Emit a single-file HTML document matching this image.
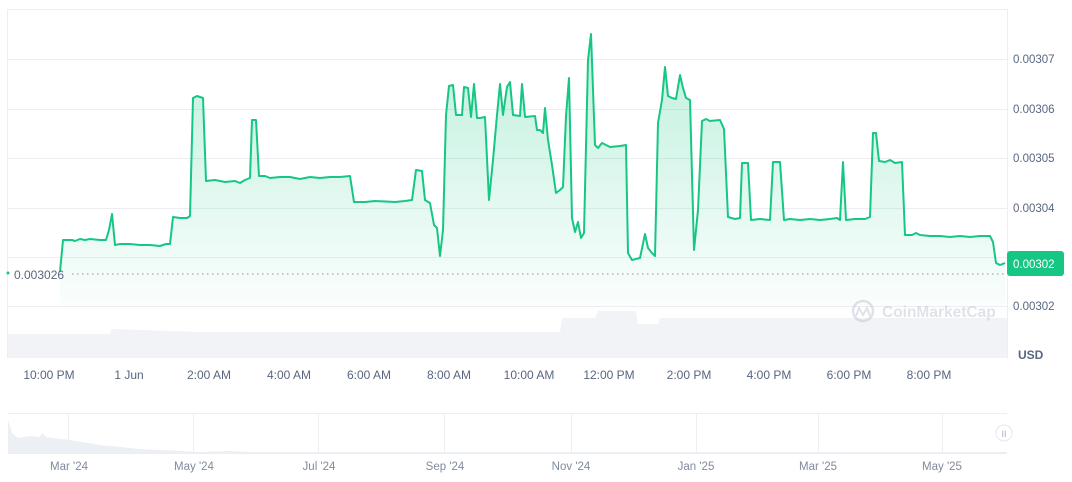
<!DOCTYPE html>
<html><head><meta charset="utf-8"><style>
body{margin:0;background:#fff;width:1072px;height:477px;overflow:hidden;font-family:"Liberation Sans",sans-serif}
</style></head><body>
<svg width="1072" height="477" viewBox="0 0 1072 477" xmlns="http://www.w3.org/2000/svg">
<defs>
<linearGradient id="g" x1="0" y1="0" x2="0" y2="1">
<stop offset="0" stop-color="#16c784" stop-opacity="0.28"/>
<stop offset="1" stop-color="#16c784" stop-opacity="0.02"/>
</linearGradient>
</defs>
<g stroke="#eceef2" stroke-width="1">
<line x1="7" y1="9.5" x2="1007" y2="9.5"/>
<line x1="7" y1="59.5" x2="1007" y2="59.5"/>
<line x1="7" y1="109.5" x2="1007" y2="109.5"/>
<line x1="7" y1="158.5" x2="1007" y2="158.5"/>
<line x1="7" y1="208.5" x2="1007" y2="208.5"/>
<line x1="7" y1="257.5" x2="1007" y2="257.5"/>
<line x1="7" y1="306.5" x2="1007" y2="306.5"/>
<line x1="7.5" y1="9" x2="7.5" y2="358"/>
<line x1="1007.5" y1="9" x2="1007.5" y2="358"/>
</g>
<path d="M8,358 L8,334 L110,334 L112,329 L200,332 L560,332 L562,318 L595,318 L598,311 L636,311 L638,324 L658,324 L660,318 L1007,318 L1007,358 Z" fill="#f2f3f6"/>
<polyline fill="url(#g)" stroke="none" points="60,272 63,240 72,240 75,241 80,239 85,240 90,239 100,240 106,240 109,230 112,214 115,245 120,244 130,244 140,245 150,245 160,246 166,244 170,244 173,217 180,218 187,218 190,216 193,98 197,96 203,98 206,181 215,180 225,182 235,181 240,183 245,180 250,178 252,120 256,120 259,176 265,176 270,178 280,177 290,177 300,179 310,177 320,178 330,177 340,177 350,176 354,202 365,202 375,201 395,202 405,201 412,200 416,170 422,171 425,200 430,203 434,225 437,228 440,256 443,230 446,115 449,86 453,85 456,115 462,115 464,87 468,88 471,117 474,84 477,118 480,118 485,117 489,200 493,160 497,115 500,84 503,115 507,87 510,82 513,115 520,116 522,84 525,117 535,116 537,130 540,130 543,133 545,108 548,140 552,165 556,193 560,190 563,187 566,116 569,78 572,218 575,232 578,222 581,238 584,233 588,60 591,34 595,145 598,148 602,143 610,147 620,146 626,145 628,253 632,260 640,258 645,234 648,248 652,253 655,256 658,123 662,100 665,67 668,96 672,98 676,99 680,75 683,88 686,98 690,100 694,250 698,210 702,121 706,119 710,121 720,120 724,129 728,217 735,219 740,218 742,163 748,163 751,220 760,219 770,220 773,162 780,162 784,220 790,219 800,220 810,219 820,220 830,219 837,218 840,220 843,162 846,220 855,219 865,219 870,217 873,133 876,133 879,161 885,162 890,160 895,163 902,162 905,235 912,235 916,233 920,235 930,236 940,236 950,237 960,236 970,237 980,236 990,236 993,242 996,263 1000,265 1005,263 1005,306 60,306"/>
<polyline fill="none" stroke="#16c784" stroke-width="2" stroke-linejoin="round" points="60,272 63,240 72,240 75,241 80,239 85,240 90,239 100,240 106,240 109,230 112,214 115,245 120,244 130,244 140,245 150,245 160,246 166,244 170,244 173,217 180,218 187,218 190,216 193,98 197,96 203,98 206,181 215,180 225,182 235,181 240,183 245,180 250,178 252,120 256,120 259,176 265,176 270,178 280,177 290,177 300,179 310,177 320,178 330,177 340,177 350,176 354,202 365,202 375,201 395,202 405,201 412,200 416,170 422,171 425,200 430,203 434,225 437,228 440,256 443,230 446,115 449,86 453,85 456,115 462,115 464,87 468,88 471,117 474,84 477,118 480,118 485,117 489,200 493,160 497,115 500,84 503,115 507,87 510,82 513,115 520,116 522,84 525,117 535,116 537,130 540,130 543,133 545,108 548,140 552,165 556,193 560,190 563,187 566,116 569,78 572,218 575,232 578,222 581,238 584,233 588,60 591,34 595,145 598,148 602,143 610,147 620,146 626,145 628,253 632,260 640,258 645,234 648,248 652,253 655,256 658,123 662,100 665,67 668,96 672,98 676,99 680,75 683,88 686,98 690,100 694,250 698,210 702,121 706,119 710,121 720,120 724,129 728,217 735,219 740,218 742,163 748,163 751,220 760,219 770,220 773,162 780,162 784,220 790,219 800,220 810,219 820,220 830,219 837,218 840,220 843,162 846,220 855,219 865,219 870,217 873,133 876,133 879,161 885,162 890,160 895,163 902,162 905,235 912,235 916,233 920,235 930,236 940,236 950,237 960,236 970,237 980,236 990,236 993,242 996,263 1000,265 1005,263"/>
<line x1="72" y1="274" x2="1007" y2="274" stroke="#8a909c" stroke-width="1" stroke-dasharray="1.5,3.5"/>
<circle cx="8" cy="273" r="1.5" fill="#16c784"/>
<text x="14" y="279" font-size="12" fill="#58667e">0.003026</text>
<g font-size="11.5" fill="#58667e">
<text x="1013" y="63">0.00307</text>
<text x="1013" y="113">0.00306</text>
<text x="1013" y="162">0.00305</text>
<text x="1013" y="212">0.00304</text>
<text x="1013" y="310">0.00302</text>
</g>
<rect x="1007" y="251" width="57" height="25" rx="3" fill="#16c784"/>
<text x="1013" y="268" font-size="11.5" fill="#fff">0.00302</text>
<text x="1018" y="359" font-size="12" font-weight="bold" fill="#58667e">USD</text>
<g opacity="0.35">
<circle cx="863" cy="311" r="10" fill="none" stroke="#a6b0c3" stroke-width="2.5"/>
<path d="M856,316 l3,-8 l4,7 l4,-7 l3,8" fill="none" stroke="#a6b0c3" stroke-width="2"/>
<text x="882" y="317" font-size="15.5" font-weight="bold" fill="#a6b0c3">CoinMarketCap</text>
</g>
<g font-size="12" fill="#58667e" text-anchor="middle">
<text x="49" y="379">10:00 PM</text>
<text x="129" y="379">1 Jun</text>
<text x="209" y="379">2:00 AM</text>
<text x="289" y="379">4:00 AM</text>
<text x="369" y="379">6:00 AM</text>
<text x="449" y="379">8:00 AM</text>
<text x="529" y="379">10:00 AM</text>
<text x="609" y="379">12:00 PM</text>
<text x="689" y="379">2:00 PM</text>
<text x="769" y="379">4:00 PM</text>
<text x="849" y="379">6:00 PM</text>
<text x="929" y="379">8:00 PM</text>
</g>
<g stroke="#eceef2" stroke-width="1">
<line x1="8" y1="413.5" x2="1007" y2="413.5"/>
<line x1="8" y1="453.5" x2="1007" y2="453.5"/>
<line x1="68.5" y1="413" x2="68.5" y2="453"/>
<line x1="193.5" y1="413" x2="193.5" y2="453"/>
<line x1="318.5" y1="413" x2="318.5" y2="453"/>
<line x1="444.5" y1="413" x2="444.5" y2="453"/>
<line x1="571.5" y1="413" x2="571.5" y2="453"/>
<line x1="696.5" y1="413" x2="696.5" y2="453"/>
<line x1="818.5" y1="413" x2="818.5" y2="453"/>
<line x1="942.5" y1="413" x2="942.5" y2="453"/>
</g>
<path d="M8,453 L8,420 L12,433 L18,438 L30,436 L40,437 L42,433 L46,437 L70,440 L100,445 L140,449 L200,452 L230,451 L250,452 L400,452 L1007,452 L1007,453 Z" fill="#eceff3"/>
<circle cx="1004" cy="433" r="8" fill="#fff" stroke="#e6e8ec"/>
<text x="1004" y="437" font-size="9" fill="#a6b0c3" text-anchor="middle">II</text>
<g font-size="11.5" fill="#808a9d" text-anchor="middle">
<text x="69" y="470">Mar '24</text>
<text x="194" y="470">May '24</text>
<text x="319" y="470">Jul '24</text>
<text x="445" y="470">Sep '24</text>
<text x="571" y="470">Nov '24</text>
<text x="696" y="470">Jan '25</text>
<text x="818" y="470">Mar '25</text>
<text x="942" y="470">May '25</text>
</g>
</svg>
</body></html>
